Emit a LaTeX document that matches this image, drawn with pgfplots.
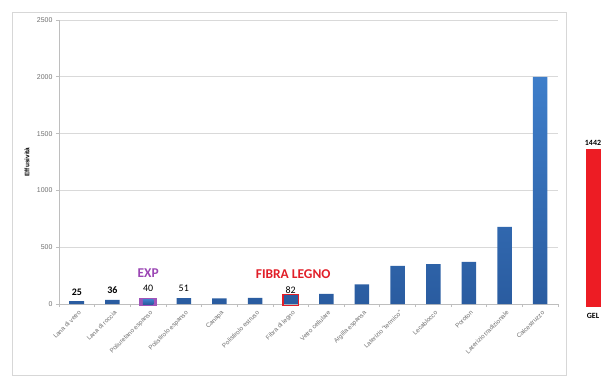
\documentclass[border=0pt]{standalone}
\usepackage{fontspec}
\setmainfont{Liberation Sans}[Ligatures={TeX,NoCommon}]
\newfontfamily\calfont{Carlito}
\usepackage{pgfplots}
\pgfplotsset{compat=1.18}
\definecolor{barTop}{RGB}{62,126,202}
\definecolor{barBot}{RGB}{42,92,160}
\definecolor{gridGray}{RGB}{217,217,217}
\definecolor{axisGray}{RGB}{190,190,190}
\definecolor{tickGray}{RGB}{110,110,110}
\definecolor{frameGray}{RGB}{215,215,215}
\definecolor{expPurple}{RGB}{155,70,180}
\definecolor{boxPurple}{RGB}{160,85,185}
\definecolor{fibraRed}{RGB}{225,30,40}
\definecolor{gelRed}{RGB}{237,28,36}
\begin{document}
\begin{tikzpicture}
\useasboundingbox (-59bp,-85bp) rectangle (546bp,304bp);
\draw[frameGray, line width=0.8bp] (-47bp,-71bp) rectangle (507bp,292bp);
\begin{axis}[
  at={(0,0)}, anchor=south west, scale only axis,
  width=499bp, height=284bp,
  xmin=-0.5, xmax=13.5, ymin=0, ymax=2500,
  axis x line*=bottom, axis y line*=left,
  axis line style={axisGray, line width=0.8bp, -},
  tick align=outside,
  xtick={0,...,13},
  xticklabels={Lana di vetro, Lana di roccia, Poliuretano espanso, Polistirolo espanso, Canapa, Polistirolo estruso, Fibra di legno, Vetro cellulare, Argilla espansa, Laterizio ``termico'', Lecablocco, Poroton, Laterizio tradizionale, Calcestruzzo},
  minor xtick={-0.5,0.5,...,13.5},
  major x tick style={draw=none},
  minor x tick style={axisGray, line width=0.6bp},
  minor tick length=3bp,
  major tick length=3bp,
  y tick style={axisGray, line width=0.6bp},
  ytick={0,500,...,2500},
  ymajorgrids, grid style={gridGray, line width=0.8bp},
  /pgf/number format/assume math mode=true,
  /pgf/number format/1000 sep={},
  yticklabel style={font=\fontsize{7}{8}\selectfont, text=tickGray},
  xticklabel style={rotate=45, anchor=north east, font=\fontsize{6.3}{7}\selectfont, text=tickGray, inner sep=1bp, yshift=-2bp},
  ylabel={\bfseries Effusività},
  every axis y label/.style={at={(axis description cs:-0.064,0.5)}, rotate=90, anchor=center, font=\fontsize{6.5}{7}\selectfont},
  clip=false,
]
% main bars
\addplot[ybar, bar shift=0pt, bar width=14.5bp, draw=none, top color=barTop, bottom color=barBot]
  coordinates {(0,25) (1,36) (2,40) (3,51) (4,50) (5,55) (6,82) (7,90) (8,172) (9,335) (10,350) (11,370) (12,680) (13,2000)};
% purple highlight box (EXP)
\addplot[fill=boxPurple, draw=none] coordinates {(1.753,-18) (2.247,-18) (2.247,52) (1.753,52)} -- cycle;
\addplot[ybar, bar shift=0pt, bar width=10.5bp, draw=none, top color=barTop, bottom color=barBot] coordinates {(2,40)};
% red highlight box (Fibra di legno)
\addplot[draw=fibraRed, line width=1.6bp, fill=none] coordinates {(5.78,-12) (6.22,-12) (6.22,82) (5.78,82)} -- cycle;
% value labels
\addplot[draw=none, mark=none, nodes near coords, point meta=explicit symbolic,
  nodes near coords style={anchor=center, font=\calfont\fontsize{10}{11}\selectfont, text=black}]
  coordinates {(0,100)[\textbf{25}] (1,125)[\textbf{36}] (2,140)[40] (3,140)[51] (6,120)[82]};
% annotation labels
\addplot[draw=none, mark=none, nodes near coords, point meta=explicit symbolic,
  nodes near coords style={anchor=center, font=\calfont\bfseries\fontsize{13.5}{15}\selectfont}]
  coordinates {(2,272)[\textcolor{expPurple}{EXP}] (6.07,265)[\textcolor{fibraRed}{FIBRA LEGNO}]};
\end{axis}
% GEL bar
\begin{axis}[
  at={(517bp,-3bp)}, anchor=south west, scale only axis,
  width=34bp, height=274bp,
  xmin=-1, xmax=1, ymin=0, ymax=2500,
  axis line style={draw=none},
  ytick=\empty,
  xtick={0}, xticklabels={GEL},
  major tick length=0pt,
  xticklabel style={font=\calfont\bfseries\fontsize{8}{9}\selectfont, text=black, yshift=-3bp},
  clip=false,
]
\addplot[ybar, bar shift=0pt, bar width=15bp, draw=none, fill=gelRed,
  nodes near coords, point meta=explicit symbolic,
  nodes near coords style={font=\calfont\bfseries\fontsize{8}{9}\selectfont, text=black}]
  coordinates {(0,1442)[1442]};
\end{axis}
\end{tikzpicture}
\end{document}
